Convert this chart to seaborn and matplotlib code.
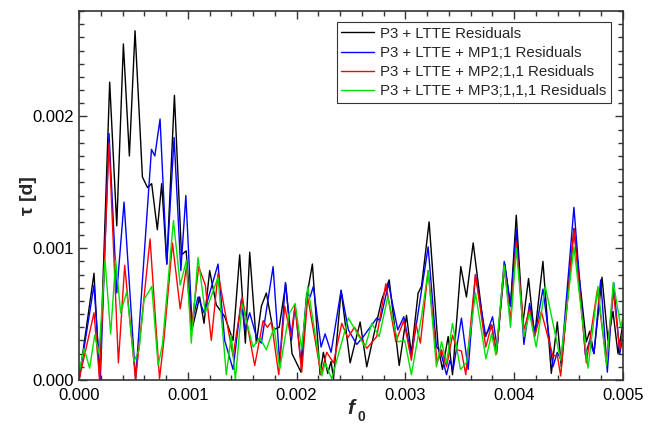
import numpy as np
import pandas as pd
import matplotlib
matplotlib.use("Agg")
import matplotlib.pyplot as plt
import seaborn as sns
from matplotlib.ticker import MultipleLocator, FormatStrFormatter

# frequency in units of 1e-3, tau in units of 1e-3
black_f = [0.0, 0.138, 0.19, 0.282, 0.347, 0.408, 0.463, 0.515, 0.583, 0.63, 0.668, 0.72, 0.76, 0.807, 0.877, 0.942, 0.985,
           1.038, 1.109, 1.149, 1.201, 1.262, 1.34, 1.416, 1.477, 1.529, 1.569, 1.63, 1.676, 1.722, 1.784, 1.84, 1.90, 1.958,
           2.04, 2.093, 2.145, 2.216, 2.246, 2.286, 2.317, 2.339, 2.409, 2.492, 2.584, 2.645, 2.706, 2.783, 2.851, 2.943,
           3.01, 3.055, 3.117, 3.148, 3.218, 3.301, 3.341, 3.393, 3.433, 3.509, 3.561, 3.623, 3.73, 3.792, 3.837, 3.914,
           3.966, 4.019, 4.08, 4.132, 4.187, 4.264, 4.341, 4.396, 4.433, 4.549, 4.663, 4.694, 4.733, 4.807, 4.862, 4.908, 4.954, 5.0]
black_t = [0.0, 0.81, 0.0, 2.26, 1.17, 2.55, 1.70, 2.65, 1.54, 1.46, 1.49, 1.14, 1.49, 0.88, 2.16, 0.95, 0.98,
           0.38, 0.63, 0.43, 0.83, 0.57, 0.48, 0.30, 0.95, 0.28, 0.97, 0.28, 0.56, 0.66, 0.38, 0.40, 0.73, 0.20,
           0.06, 0.63, 0.88, 0.04, 0.21, 0.05, 0.14, 0.01, 0.68, 0.13, 0.44, 0.10, 0.33, 0.61, 0.76, 0.11,
           0.49, 0.20, 0.66, 0.71, 1.20, 0.25, 0.08, 0.33, 0.04, 0.86, 0.63, 1.04, 0.33, 0.42, 0.20, 0.88,
           0.56, 1.25, 0.43, 0.77, 0.33, 0.90, 0.05, 0.44, 0.10, 1.15, 0.29, 0.37, 0.20, 0.78, 0.30, 0.52, 0.20, 0.43]

blue_f = [0.0, 0.138, 0.196, 0.276, 0.347, 0.414, 0.52, 0.666, 0.697, 0.745, 0.807, 0.874, 0.936, 0.982,
          1.038, 1.094, 1.149, 1.278, 1.339, 1.416, 1.492, 1.523, 1.569, 1.63, 1.676, 1.784, 1.845, 1.897, 1.953,
          1.986, 2.04, 2.093, 2.124, 2.154, 2.225, 2.262, 2.317, 2.409, 2.476, 2.553, 2.614, 2.737, 2.768, 2.845, 2.93,
          2.985, 3.055, 3.117, 3.209, 3.285, 3.322, 3.378, 3.409, 3.439, 3.515, 3.577, 3.644, 3.739, 3.801, 3.843, 3.908,
          3.966, 4.019, 4.089, 4.141, 4.193, 4.264, 4.356, 4.396, 4.433, 4.549, 4.654, 4.694, 4.733, 4.795, 4.856, 4.914, 4.97, 5.0]
blue_t = [0.0, 0.72, 0.0, 1.87, 0.66, 1.35, 0.0, 1.75, 1.70, 1.98, 0.88, 1.84, 0.83, 1.40,
          0.44, 0.63, 0.51, 0.88, 0.30, 0.08, 0.61, 0.38, 0.51, 0.33, 0.28, 0.86, 0.13, 0.74, 0.30,
          0.57, 0.13, 0.66, 0.63, 0.71, 0.25, 0.35, 0.21, 0.68, 0.38, 0.27, 0.33, 0.47, 0.45, 0.73, 0.38,
          0.48, 0.18, 0.51, 1.01, 0.25, 0.22, 0.04, 0.15, 0.08, 0.47, 0.08, 0.80, 0.33, 0.48, 0.25, 0.90,
          0.56, 1.14, 0.27, 0.58, 0.35, 0.69, 0.10, 0.21, 0.15, 1.31, 0.19, 0.30, 0.20, 0.76, 0.06, 0.74, 0.20, 0.33]

red_f = [0.0, 0.138, 0.19, 0.276, 0.362, 0.42, 0.52, 0.653, 0.74, 0.78, 0.859, 0.93, 0.988,
         1.032, 1.10, 1.161, 1.216, 1.278, 1.416, 1.499, 1.615, 1.692, 1.731, 1.768, 1.836, 1.891, 1.946,
         1.986, 2.047, 2.102, 2.225, 2.277, 2.339, 2.415, 2.47, 2.532, 2.645, 2.737, 2.82, 2.912,
         2.985, 3.055, 3.095, 3.138, 3.209, 3.292, 3.332, 3.378, 3.433, 3.476, 3.515, 3.555, 3.644, 3.739, 3.792, 3.837, 3.908,
         3.966, 4.019, 4.089, 4.141, 4.187, 4.249, 4.356, 4.396, 4.427, 4.549, 4.663, 4.764, 4.847, 4.911, 4.97, 5.0]
red_t = [0.0, 0.51, 0.0, 1.80, 0.13, 0.87, 0.0, 1.07, 0.01, 0.30, 1.04, 0.54, 0.86,
         0.38, 0.86, 0.72, 0.30, 0.81, 0.18, 0.63, 0.11, 0.45, 0.40, 0.44, 0.04, 0.56, 0.33,
         0.56, 0.06, 0.63, 0.04, 0.21, 0.13, 0.43, 0.32, 0.40, 0.24, 0.33, 0.73, 0.29,
         0.45, 0.15, 0.43, 0.28, 0.83, 0.13, 0.23, 0.10, 0.34, 0.23, 0.22, 0.04, 0.80, 0.25, 0.42, 0.20, 0.87,
         0.45, 1.05, 0.38, 0.54, 0.33, 0.52, 0.18, 0.19, 0.03, 1.14, 0.13, 0.68, 0.15, 0.67, 0.23, 0.38]

green_f = [0.0, 0.046, 0.098, 0.144, 0.184, 0.239, 0.291, 0.337, 0.383, 0.439, 0.506, 0.552, 0.598, 0.669, 0.727, 0.767, 0.868, 0.93, 0.988,
           1.032, 1.094, 1.161, 1.278, 1.354, 1.40, 1.437, 1.499, 1.60, 1.661, 1.722, 1.793, 1.845, 1.93,
           1.986, 2.047, 2.102, 2.231, 2.262, 2.323, 2.476, 2.63, 2.691, 2.759, 2.838, 2.93,
           2.994, 3.055, 3.148, 3.209, 3.285, 3.332, 3.378, 3.433, 3.506, 3.561, 3.644, 3.74, 3.792, 3.831, 3.908, 3.966,
           4.019, 4.089, 4.141, 4.202, 4.286, 4.427, 4.549, 4.678, 4.77, 4.847, 4.911, 4.98, 5.0]
green_t = [0.05, 0.24, 0.09, 0.34, 0.20, 0.91, 0.35, 0.91, 0.51, 0.67, 0.14, 0.23, 0.61, 0.71, 0.11, 0.27, 1.21, 0.72, 0.91,
           0.28, 0.93, 0.51, 0.78, 0.04, 0.34, 0.0, 0.58, 0.25, 0.32, 0.23, 0.40, 0.08, 0.50,
           0.58, 0.23, 0.71, 0.03, 0.13, 0.01, 0.47, 0.25, 0.43, 0.33, 0.63, 0.29,
           0.30, 0.04, 0.48, 0.83, 0.10, 0.29, 0.13, 0.43, 0.08, 0.13, 0.66, 0.16, 0.35, 0.19, 0.87, 0.40,
           1.00, 0.33, 0.51, 0.25, 0.71, 0.15, 1.01, 0.09, 0.71, 0.11, 0.74, 0.40, 0.48]

labels = ["P3 + LTTE Residuals", "P3 + LTTE + MP1;1 Residuals",
          "P3 + LTTE + MP2;1,1 Residuals", "P3 + LTTE + MP3;1,1,1 Residuals"]
colors = ["#000000", "#0000ff", "#ff0000", "#00e000"]

frames = []
for lab, f, t in zip(labels, [black_f, blue_f, red_f, green_f], [black_t, blue_t, red_t, green_t]):
    frames.append(pd.DataFrame({"f": np.array(f) * 1e-3, "tau": np.array(t) * 1e-3, "series": lab}))
df = pd.concat(frames, ignore_index=True)

sns.set_theme(style="ticks")
plt.rcParams["font.family"] = ["Liberation Sans", "DejaVu Sans"]

fig = plt.figure(figsize=(6.56, 4.24), dpi=100)
ax = fig.add_axes([79 / 656, 44 / 424, (623 - 79) / 656, (380 - 11) / 424])

sns.lineplot(data=df, x="f", y="tau", hue="series", hue_order=labels,
             palette=colors, sort=False, estimator=None, linewidth=1.0, ax=ax)

ax.set_xlim(0, 0.005)
ax.set_ylim(0, 0.0028)
ax.xaxis.set_major_locator(MultipleLocator(0.001))
ax.xaxis.set_minor_locator(MultipleLocator(0.0002))
ax.yaxis.set_major_locator(MultipleLocator(0.001))
ax.yaxis.set_minor_locator(MultipleLocator(0.0001))
ax.xaxis.set_major_formatter(FormatStrFormatter("%.3f"))
ax.yaxis.set_major_formatter(FormatStrFormatter("%.3f"))
ax.tick_params(which="both", direction="in", top=True, right=True, colors="#333333",
               labelcolor="black", width=1.0)
ax.tick_params(which="major", length=6, labelsize=12)
ax.tick_params(axis="x", which="major", pad=6)
ax.tick_params(which="minor", length=3.5)
for s in ax.spines.values():
    s.set_linewidth(1.2)
    s.set_color("#333333")

ax.set_xlabel("")
fig.text((79 + 623) / 2 / 656, 1 - 414 / 424, "f", fontsize=15, fontweight="bold",
         fontstyle="italic", ha="center", va="baseline")
fig.text((79 + 623) / 2 / 656 + 6 / 656, 1 - 421 / 424, "0", fontsize=10, fontweight="bold",
         ha="left", va="baseline")
ax.set_ylabel("τ [d]", fontsize=14, fontweight="bold", labelpad=-3)

leg = ax.legend(loc="upper right", bbox_to_anchor=(611 / 656, 1 - 22 / 424),
                bbox_transform=fig.transFigure, fontsize=10.8, frameon=True,
                fancybox=False, edgecolor="black", handlelength=2.2, handletextpad=0.4,
                borderpad=0.3, labelspacing=0.35, borderaxespad=0)
leg.get_frame().set_linewidth(0.8)
for h in leg.get_lines():
    h.set_linewidth(1.0)

fig.savefig("out.png", dpi=100)
